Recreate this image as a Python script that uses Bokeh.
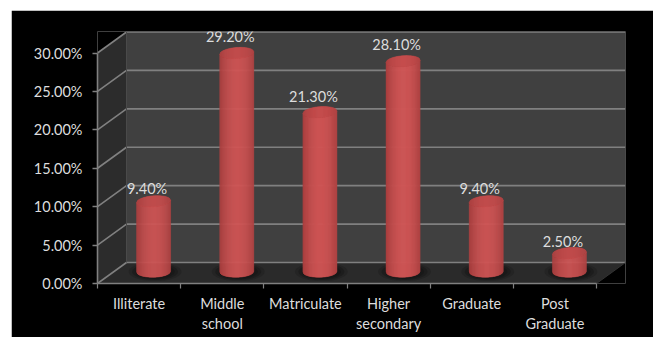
import numpy as np
from bokeh.embed import file_html
from bokeh.models import ColumnDataSource, FixedTicker, PrintfTickFormatter, Range1d
from bokeh.core.properties import value as fixed
from bokeh.plotting import figure
from bokeh.resources import INLINE

categories = ["Illiterate", "Middle\nschool", "Matriculate", "Higher\nsecondary", "Graduate", "Post\nGraduate"]
shares = [9.4, 29.2, 21.3, 28.1, 9.4, 2.5]
y_ticks = [0, 5, 10, 15, 20, 25, 30]

# Pixels per data unit, and the oblique depth of the 3D box
UX = 499 / 6
UY = 230.5 / 30
DX = 29 / UX
DY = 21 / UY
FONT = "Lato"
TEXT = "#dddddd"
GRID = "#808080"

p = figure(width=642, height=327, output_backend="svg", toolbar_location=None,
           x_range=Range1d(0, 528 / UX), y_range=Range1d(0, 252 / UY),
           min_border_left=86, min_border_right=28, min_border_top=21, min_border_bottom=54,
           background_fill_color="black", border_fill_color="black", outline_line_color=None)
p.margin = (10, 0, 0, 11)
p.grid.visible = False

# Box walls and floor
p.patch([DX, 6 + DX, 6 + DX, DX], [DY, DY, 30 + DY, 30 + DY], fill_color="#404040", line_color=None)
p.patch([0, DX, DX, 0], [0, DY, 30 + DY, 30], fill_color="#2c2c2c", line_color=None)
p.patch([0, 6, 6 + DX, DX], [0, 0, DY, DY], fill_color="#2a2a2a", line_color=None)

# Gridlines run along the side wall and then across the back wall
for t in y_ticks:
    p.line([0, DX, 6 + DX], [t, t + DY, t + DY], line_color=GRID, line_width=1.6)
p.line([DX, DX], [DY, 30 + DY], line_color="#4a4a4a", line_width=1)
p.line([6 + DX, 6 + DX], [DY, 30 + DY], line_color="#555555", line_width=1)
p.line([6, 6 + DX], [0, DY], line_color="#333333", line_width=1)


def mix(a, b, t):
    c = [int(round(x + (y - x) * t)) for x, y in zip(a, b)]
    return "#%02x%02x%02x" % tuple(c)


RADIUS = 17 * 6 / 499
EDGE = 5.5 / UY
TILT = 1.2 / UY
HEIGHT_SCALE = 0.975
STRIPS = 34
u = np.linspace(-1, 1, STRIPS + 1)
arc = np.sqrt(1 - u ** 2)

for i, v in enumerate(shares):
    cx = i + 0.5 + DX / 2
    base = DY * 0.56
    top = base + v * HEIGHT_SCALE

    # Soft contact shadow on the floor
    th = np.linspace(0, 2 * np.pi, 60)
    for scale, alpha in ((1.55, 0.25), (1.35, 0.4), (1.15, 0.6)):
        p.patch(cx + 1.5 * 6 / 499 + RADIUS * scale * np.cos(th),
                base + EDGE * 1.1 * scale * np.sin(th),
                fill_color="#151515", fill_alpha=alpha, line_color=None)

    xs, ys, fills = [], [], []
    cap_xs, cap_ys, cap_fills = [], [], []
    for k in range(STRIPS):
        x0, x1 = cx + RADIUS * u[k], cx + RADIUS * u[k + 1]
        t0, t1 = TILT * u[k], TILT * u[k + 1]
        mid = (u[k] + u[k + 1]) / 2
        light = np.cos(np.clip((mid - 0.05) * 1.45, -1.57, 1.57)) ** 0.8
        xs.append([x0, x1, x1, x0])
        ys.append([base - EDGE * arc[k] + t0 * 0.3, base - EDGE * arc[k + 1] + t1 * 0.3,
                   top - EDGE * arc[k + 1] + t1, top - EDGE * arc[k] + t0])
        fills.append(mix((165, 60, 60), (208, 86, 86), light))
        cap_xs.append([x0, x1, x1, x0])
        cap_ys.append([top - EDGE * arc[k] + t0, top - EDGE * arc[k + 1] + t1,
                       top + EDGE * arc[k + 1] + t1, top + EDGE * arc[k] + t0])
        cap_fills.append(mix((172, 64, 64), (200, 78, 78), light))
    p.patches(xs, ys, fill_color=fills, line_color=fills, line_width=0.5)
    p.patches(cap_xs, cap_ys, fill_color=cap_fills, line_color=cap_fills, line_width=0.5)

# Value labels sit just above each cylinder
labels = ColumnDataSource(dict(x=[i + 0.5 for i in range(len(shares))], y=shares,
                               text=["%.2f%%" % v for v in shares]))
p.text("x", "y", "text", source=labels, text_font=fixed(FONT), text_font_size="14.5px",
       text_color=TEXT, text_align="center", text_baseline="middle", x_offset=8, y_offset=-23)

# Axes
ya = p.yaxis[0]
ya.ticker = FixedTicker(ticks=y_ticks)
ya.bounds = (0, 30)
ya.formatter = PrintfTickFormatter(format="%.2f%%")
ya.axis_line_color = GRID
ya.axis_line_width = 1.6
ya.major_tick_line_color = GRID
ya.major_tick_line_width = 1.4
ya.major_tick_in = 0
ya.major_tick_out = 5
ya.minor_tick_line_color = None
ya.major_label_standoff = 10
ya.major_label_text_font = FONT
ya.major_label_text_font_size = "14.5px"
ya.major_label_text_color = TEXT

centres = [i + 0.5 for i in range(len(categories))]
xa = p.xaxis[0]
xa.ticker = FixedTicker(ticks=centres, minor_ticks=list(range(len(categories) + 1)))
xa.bounds = (0, 6)
xa.major_label_overrides = {c: n for c, n in zip(centres, categories)}
xa.axis_line_color = GRID
xa.axis_line_width = 1.6
xa.major_tick_line_color = None
xa.minor_tick_line_color = GRID
xa.minor_tick_line_width = 1.2
xa.minor_tick_in = 0
xa.minor_tick_out = 5
xa.major_tick_in = 0
xa.major_tick_out = 0
xa.major_label_standoff = 6
xa.major_label_text_font = FONT
xa.major_label_text_font_size = "14.5px"
xa.major_label_text_color = TEXT
xa.major_label_orientation = "horizontal"

open("out.html", "w").write(file_html(p, INLINE))
